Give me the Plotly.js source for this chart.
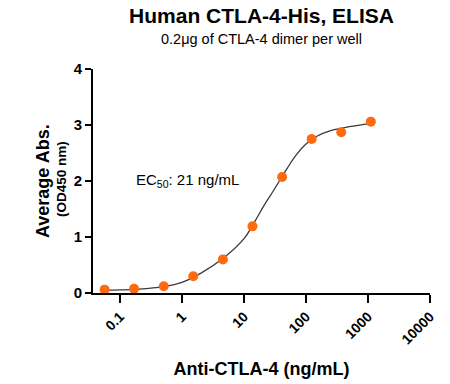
<!DOCTYPE html>
<html>
<head>
<meta charset="utf-8">
<script src="https://cdn.plot.ly/plotly-3.0.1.min.js"></script>
<style>html,body{margin:0;padding:0;background:#fff}#chart{width:450px;height:384px}</style>
</head>
<body>
<div id="chart"></div>
<script>
// Measured data points (concentration ng/mL, OD450)
const conc = [0.0565, 0.169, 0.508, 1.52, 4.57, 13.7, 41.2, 123.5, 370.4, 1111];
const absorb = [0.06, 0.075, 0.12, 0.30, 0.60, 1.19, 2.07, 2.75, 2.87, 3.06];
// Fitted curve
const fitX = [0.0565, 0.1, 0.2, 0.5, 1, 2, 5, 10, 15, 21, 30, 50, 70, 100, 150, 250, 500, 1111];
const fitY = [0.05, 0.055, 0.07, 0.115, 0.19, 0.35, 0.65, 0.97, 1.28, 1.56, 1.83, 2.23, 2.47, 2.66, 2.80, 2.90, 2.97, 3.03];
// Tick labels
const xTickVals = [0.1, 1, 10, 100, 1000, 10000];
const xTickText = ["0.1", "1", "10", "100", "1000", "10000"];
const yTickVals = [0, 1, 2, 3, 4];

const F = "Arial, 'Liberation Sans', sans-serif";

const traces = [
  {x: fitX, y: fitY, mode: 'lines', line: {color: '#3a3a3a', width: 1.3, shape: 'spline', smoothing: 1}, hoverinfo: 'skip', showlegend: false},
  {x: conc, y: absorb, mode: 'markers', marker: {color: '#FF6A10', size: 10}, showlegend: false, cliponaxis: false}
];

const layout = {
  width: 450, height: 384,
  margin: {l: 93, r: 20, t: 69, b: 91},
  paper_bgcolor: '#fff', plot_bgcolor: '#fff',
  font: {family: F, color: '#000'},
  title: {text: '<b>Human CTLA-4-His, ELISA</b>', font: {size: 21, family: F, color: '#000'},
          xref: 'paper', x: 0.5, xanchor: 'center', yref: 'container', y: 1 - 16/384, yanchor: 'middle'},
  xaxis: {
    type: 'log', range: [-1.435, 4],
    showline: true, linecolor: '#000', linewidth: 2,
    showgrid: false, zeroline: false,
    ticks: 'outside', ticklen: 8, tickwidth: 2, tickcolor: '#000',
    tickvals: xTickVals, ticktext: xTickText, tickangle: -45,
    tickfont: {size: 14, family: F, color: '#000', weight: 'bold'},
    title: {text: '<b>Anti-CTLA-4 (ng/mL)</b>', font: {size: 18, family: F, color: '#000'}, standoff: 16}
  },
  yaxis: {
    range: [0, 4],
    showline: true, linecolor: '#000', linewidth: 2,
    showgrid: false, zeroline: false,
    ticks: 'outside', ticklen: 6, tickwidth: 2, tickcolor: '#000',
    tickvals: yTickVals,
    tickfont: {size: 15, family: F, color: '#000', weight: 'bold'}
  },
  annotations: [
    {text: '0.2μg of CTLA-4 dimer per well', xref: 'paper', yref: 'paper', x: 0.5, y: 1, xanchor: 'center', yanchor: 'middle',
     yshift: 69 - 39, showarrow: false, font: {size: 14.5, family: F, color: '#000'}},
    {text: '<b>Average Abs.</b>', xref: 'paper', yref: 'paper', x: 0, y: 0.5, xanchor: 'center', yanchor: 'middle',
     xshift: -50, yshift: 0, textangle: -90, showarrow: false, font: {size: 18, family: F, color: '#000'}},
    {text: '<b>(OD450 nm)</b>', xref: 'paper', yref: 'paper', x: 0, y: 0.5, xanchor: 'center', yanchor: 'middle',
     xshift: -32, yshift: 2, textangle: -90, showarrow: false, font: {size: 13.5, family: F, color: '#000'}},
    {text: 'EC<sub>50</sub>: 21 ng/mL', xref: 'paper', yref: 'paper', x: (134 - 93) / 337, y: (293 - 181) / 223.5,
     xanchor: 'left', yanchor: 'middle', showarrow: false, font: {size: 15, family: F, color: '#000'}}
  ]
};

Plotly.newPlot('chart', traces, layout, {displayModeBar: false, staticPlot: true});
</script>
</body>
</html>
